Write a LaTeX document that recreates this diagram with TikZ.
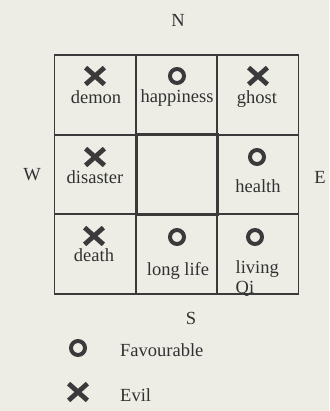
\documentclass[tikz,border=0pt]{standalone}
\usepackage{fontspec}
\setmainfont{Liberation Serif}
\usetikzlibrary{shapes.misc,positioning}
\definecolor{ink}{HTML}{3A3A3A}
\definecolor{paper}{HTML}{EDEDE6}
\tikzset{
  cell/.style    = {draw=ink, line width=1.8pt, minimum width=81pt,
                    minimum height=79.5pt, inner sep=0pt},
  midcell/.style = {cell, line width=3pt},
  good/.style    = {circle, draw=ink, line width=4pt, minimum size=14pt,
                    inner sep=0pt},
  evil/.style    = {cross out, draw=ink, line width=4.8pt, minimum width=14pt,
                    minimum height=12pt, inner sep=0pt},
  word/.style    = {font=\fontsize{18.5}{20.5}\selectfont, text=ink!85!black,
                    inner sep=0pt},
}

\begin{document}
\begin{tikzpicture}[x=1pt, y=-1pt]
\fill[paper] (0,0) rectangle (329,411);
\useasboundingbox (0,0) rectangle (329,411);
% the nine squares
\node[cell] (nw) at (95,95) {};
\node[cell] (n)  at (176.5,95) {};
\node[cell] (ne) at (258,95) {};
\node[cell] (w)  at (95,174.5) {};
\node[cell] (e)  at (258,174.5) {};
\node[cell] (sw) at (95,254) {};
\node[cell] (s)  at (176.5,254) {};
\node[cell] (se) at (258,254) {};
\node[midcell] (c) at (176.5,174.5) {};
% signs and words
\node[evil] (x1) at (95,76) {};
\node[word] (demon) at (96,97) {demon};
\node[good] (o1) at (177,76) {};
\node[word] (happiness) at (177,98) {happiness};
\node[evil] (x2) at (258,76) {};
\node[word] (ghost) at (257,99) {ghost};
\node[evil] (x3) at (95,157) {};
\node[word] (disaster) at (95,177) {disaster};
\node[good] (o2) at (257,157) {};
\node[word] (health) at (258,186) {health};
\node[evil] (x4) at (94,236) {};
\node[word] (death) at (94,255) {death};
\node[good] (o3) at (177,237) {};
\node[word] (longlife) at (178,271) {long life};
\node[good] (o4) at (255,237) {};
\node[word, align=left, anchor=north west] (living) at (235.5,260) {living\\Qi};
% compass
\node[word] (north) at (178,20) {N};
\node[word] (south) at (191,318) {S};
\node[word] (west)  at (32,175) {W};
\node[word] (east)  at (320,177) {E};
% key
\node[good] (keyo) at (78,348) {};
\node[word, anchor=west] (fav) at (120,350) {Favourable};
\node[evil] (keyx) at (78,392) {};
\node[word, anchor=west] (evil) at (120,395) {Evil};
\end{tikzpicture}
\end{document}
